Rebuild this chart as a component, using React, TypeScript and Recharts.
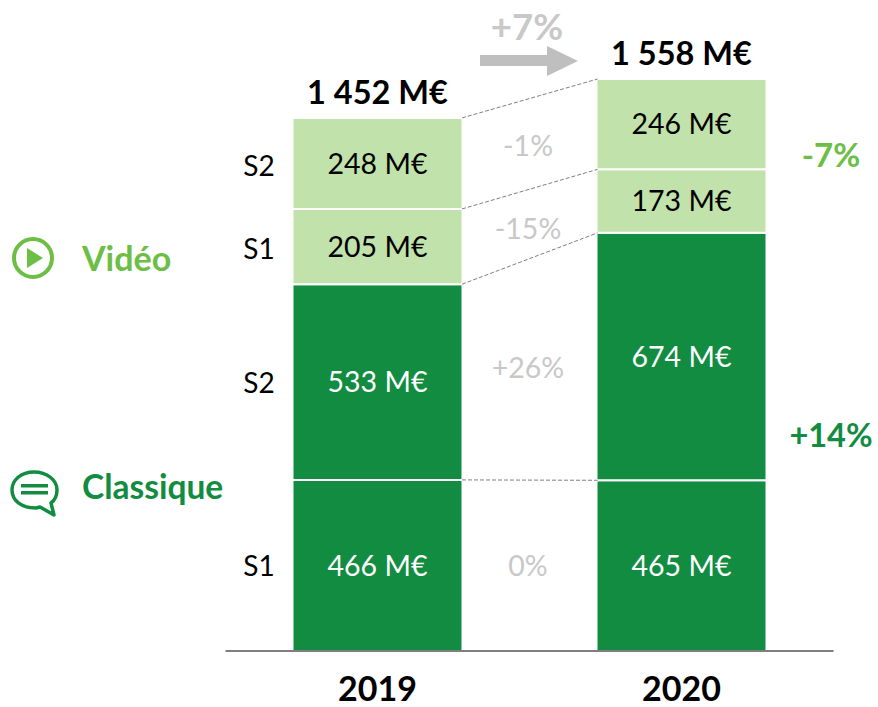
import { Bar, BarChart, LabelList, ReferenceLine, XAxis, YAxis } from 'recharts'

const years = ['2019', '2020']
const classiqueS1 = [466, 465]
const classiqueS2 = [533, 674]
const videoS1 = [205, 173]
const videoS2 = [248, 246]
const totals = [1452, 1558]

const rows = years.map((year, i) => ({
  year,
  classiqueS1: classiqueS1[i],
  classiqueS2: classiqueS2[i],
  videoS1: videoS1[i],
  videoS2: videoS2[i],
  total: totals[i],
}))

// palier cumulé de chaque segment, pour les pointillés entre les deux barres
const connectors = [
  [classiqueS1[0], classiqueS1[1]],
  [classiqueS1[0] + classiqueS2[0], classiqueS1[1] + classiqueS2[1]],
  [classiqueS1[0] + classiqueS2[0] + videoS1[0], classiqueS1[1] + classiqueS2[1] + videoS1[1]],
  [totals[0], totals[1]],
]

const FONT = 'Lato, sans-serif'
const DARK = '#128C41'
const LIGHT = '#C1E2AB'
const MID = '#6CBE45'
const GREY = '#C8C8C8'
const LINK_FROM = 0.389
const LINK_TO = 0.612

const formatTotal = (v: number) => `${String(v).replace(/\B(?=(\d{3})+$)/g, ' ')} M€`
const formatValue = (v: number) => `${v} M€`

const changeLabels = [
  { text: '-1%', y: 145 },
  { text: '-15%', y: 228 },
  { text: '+26%', y: 367 },
  { text: '0%', y: 565 },
]

const halfLabels = [
  { text: 'S2', y: 165 },
  { text: 'S1', y: 248 },
  { text: 'S2', y: 382 },
  { text: 'S1', y: 565 },
]

function Note({ x, y, size, fill, bold, anchor = 'middle', children }: any) {
  return (
    <text
      x={x}
      y={y}
      fontSize={size}
      fill={fill}
      fontWeight={bold ? 700 : 400}
      fontFamily={FONT}
      textAnchor={anchor}
      dominantBaseline="central"
    >
      {children}
    </text>
  )
}

function segment(key: string, fill: string, color: string, withTotal = false) {
  return (
    <Bar
      dataKey={key}
      stackId="a"
      fill={fill}
      stroke="#fff"
      strokeWidth={2}
      isAnimationActive={false}
    >
      <LabelList
        dataKey={key}
        position="center"
        formatter={formatValue as any}
        fill={color}
        fontSize={28.5}
        fontFamily={FONT}
      />
      {withTotal && (
        <LabelList
          dataKey="total"
          position="top"
          offset={14}
          formatter={formatTotal as any}
          fill="#000"
          fontSize={32.5}
          fontWeight={700}
          fontFamily={FONT}
        />
      )}
    </Bar>
  )
}

export default function App() {
  return (
    <div style={{ position: 'absolute', left: 0, top: 0, width: 878, height: 707 }}>
      <BarChart
        width={878}
        height={707}
        data={rows}
        barSize={170}
        margin={{ top: 79, right: 44.5, bottom: 0, left: 225.5 }}
      >
        {segment('classiqueS1', DARK, '#fff')}
        {segment('classiqueS2', DARK, '#fff')}
        {segment('videoS1', LIGHT, '#000')}
        {segment('videoS2', LIGHT, '#000', true)}
        <XAxis
          dataKey="year"
          height={56}
          axisLine={{ stroke: '#7F7F7F', strokeWidth: 2 }}
          tickLine={false}
          tickMargin={20}
          tick={{ fill: '#000', fontSize: 34, fontWeight: 700, fontFamily: FONT }}
        />
        <XAxis xAxisId="links" type="number" domain={[0, 1]} hide />
        <YAxis hide domain={[0, 1558]} />
        {connectors.map(([from, to], i) => (
          <ReferenceLine
            key={i}
            xAxisId="links"
            ifOverflow="visible"
            stroke="#7F7F7F"
            strokeDasharray="4 2"
            segment={[
              { x: LINK_FROM, y: from },
              { x: LINK_TO, y: to },
            ]}
          />
        ))}

        {changeLabels.map((l) => (
          <Note key={l.text} x={528} y={l.y} size={28.5} fill={GREY}>
            {l.text}
          </Note>
        ))}
        {halfLabels.map((l) => (
          <Note key={l.y} x={259} y={l.y} size={28} fill="#000">
            {l.text}
          </Note>
        ))}

        <Note x={527} y={26} size={36.5} fill={GREY} bold>
          +7%
        </Note>
        <polygon points="480,55 547,55 547,46 578,61 547,76 547,66 480,66" fill="#BFBFBF" />

        <Note x={831} y={154} size={33} fill={MID} bold>
          -7%
        </Note>
        <Note x={831} y={434} size={32.5} fill={DARK} bold>
          +14%
        </Note>

        <circle cx={33} cy={258} r={19} fill="none" stroke={MID} strokeWidth={4} />
        <polygon points="27,248 27,268 43,258" fill={MID} />
        <Note x={82} y={257} size={34} fill={MID} bold anchor="start">
          Vidéo
        </Note>

        <path
          d="M34 472 C21 472 12 480 12 490 C12 501 22 508 36 508 L40 507 L54 515 L51 503 C55 500 57 495 57 490 C57 480 47 472 34 472 Z"
          fill="none"
          stroke={DARK}
          strokeWidth={3.5}
          strokeLinejoin="round"
        />
        <rect x={21} y={484} width={27} height={3.5} fill={DARK} />
        <rect x={21} y={491} width={27} height={3.5} fill={DARK} />
        <Note x={82} y={486} size={33.5} fill={DARK} bold anchor="start">
          Classique
        </Note>
      </BarChart>
    </div>
  )
}
